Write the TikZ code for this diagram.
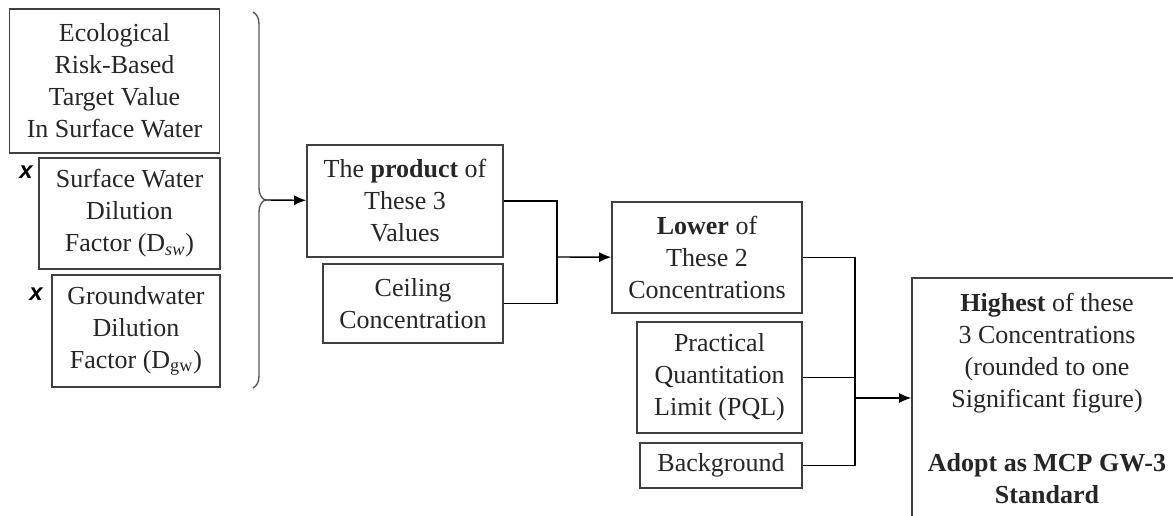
\documentclass[tikz,border=0pt]{standalone}
\usepackage{fontspec}
\setmainfont{Liberation Serif}
\newfontfamily\markfont{Liberation Sans}
\usetikzlibrary{shapes,arrows.meta,decorations.pathreplacing}
\tikzstyle{block} = [rectangle, draw=black!75, line width=0.8pt,
    align=center, inner sep=1pt, text=black!85, font=\fontsize{13}{16}\selectfont]
\tikzstyle{line} = [draw, line width=0.7pt, -{Latex[length=6pt,width=5pt]}]
\tikzstyle{wire} = [draw, line width=0.7pt]

\begin{document}
\begin{tikzpicture}[x=0.5pt, y=-0.5pt]
\useasboundingbox (0,0) rectangle (1173,515);
\clip (0,0) rectangle (1173,515);

% the three factors
\node [block, minimum width=105pt, minimum height=72pt] at (114.5,81) (target) {Ecological\\Risk-Based\\Target Value\\In Surface Water};
\node [block, minimum width=90.5pt, minimum height=55.5pt] at (129.5,213.5) (dsw) {Surface Water\\Dilution\\Factor (D\textsubscript{\textit{sw}})};
\node [block, minimum width=84pt, minimum height=56pt] at (136,331) (dgw) {Groundwater\\Dilution\\Factor (D\textsubscript{gw})};
\node [font=\markfont\itshape\bfseries\large] at (26,172) (times1) {x};
\node [font=\markfont\itshape\bfseries\large] at (36,294) (times2) {x};

\coordinate (bracetop) at (253,12);
\coordinate (bracebot) at (253,388);
\coordinate (bracetip) at (265,200);
\draw [draw=black!65, line width=0.7pt, decorate, decoration={brace, amplitude=6pt}] (bracetop) -- (bracebot);

% second column
\node [block, minimum width=98pt, minimum height=56pt] at (405,201) (product) {The \textbf{product} of\\These 3\\Values};
\node [block, minimum width=90pt, minimum height=39.5pt] at (413,303.5) (ceiling) {Ceiling\\Concentration};

% third column
\node [block, minimum width=95pt, minimum height=55.5pt] at (707,257.5) (lower) {\textbf{Lower} of\\These 2\\Concentrations};
\node [block, minimum width=82.5pt, minimum height=55.5pt] at (719.5,377.5) (pql) {Practical\\Quantitation\\Limit (PQL)};
\node [block, minimum width=81pt, minimum height=22.5pt] at (721,465.5) (background) {Background};

% result
\node [block, minimum width=135pt, minimum height=120pt] at (1047,398) (standard) {\textbf{Highest} of these\\3 Concentrations\\(rounded to one\\Significant figure)\\[16pt]\textbf{Adopt as MCP GW-3}\\\textbf{Standard}};

\coordinate (join1) at (557,257);
\coordinate (join2) at (855,398);

\draw [line] (bracetip) -- (product);
\draw [wire] (product.east) -| (join1);
\draw [wire] (ceiling.east) -| (join1);
\draw [line] (join1) -- (lower);
\draw [wire] (lower.east) -| (join2);
\draw [wire] (pql.east) -| (join2);
\draw [wire] (background.east) -| (join2);
\draw [line] (join2) -- (standard);
\end{tikzpicture}
\end{document}
